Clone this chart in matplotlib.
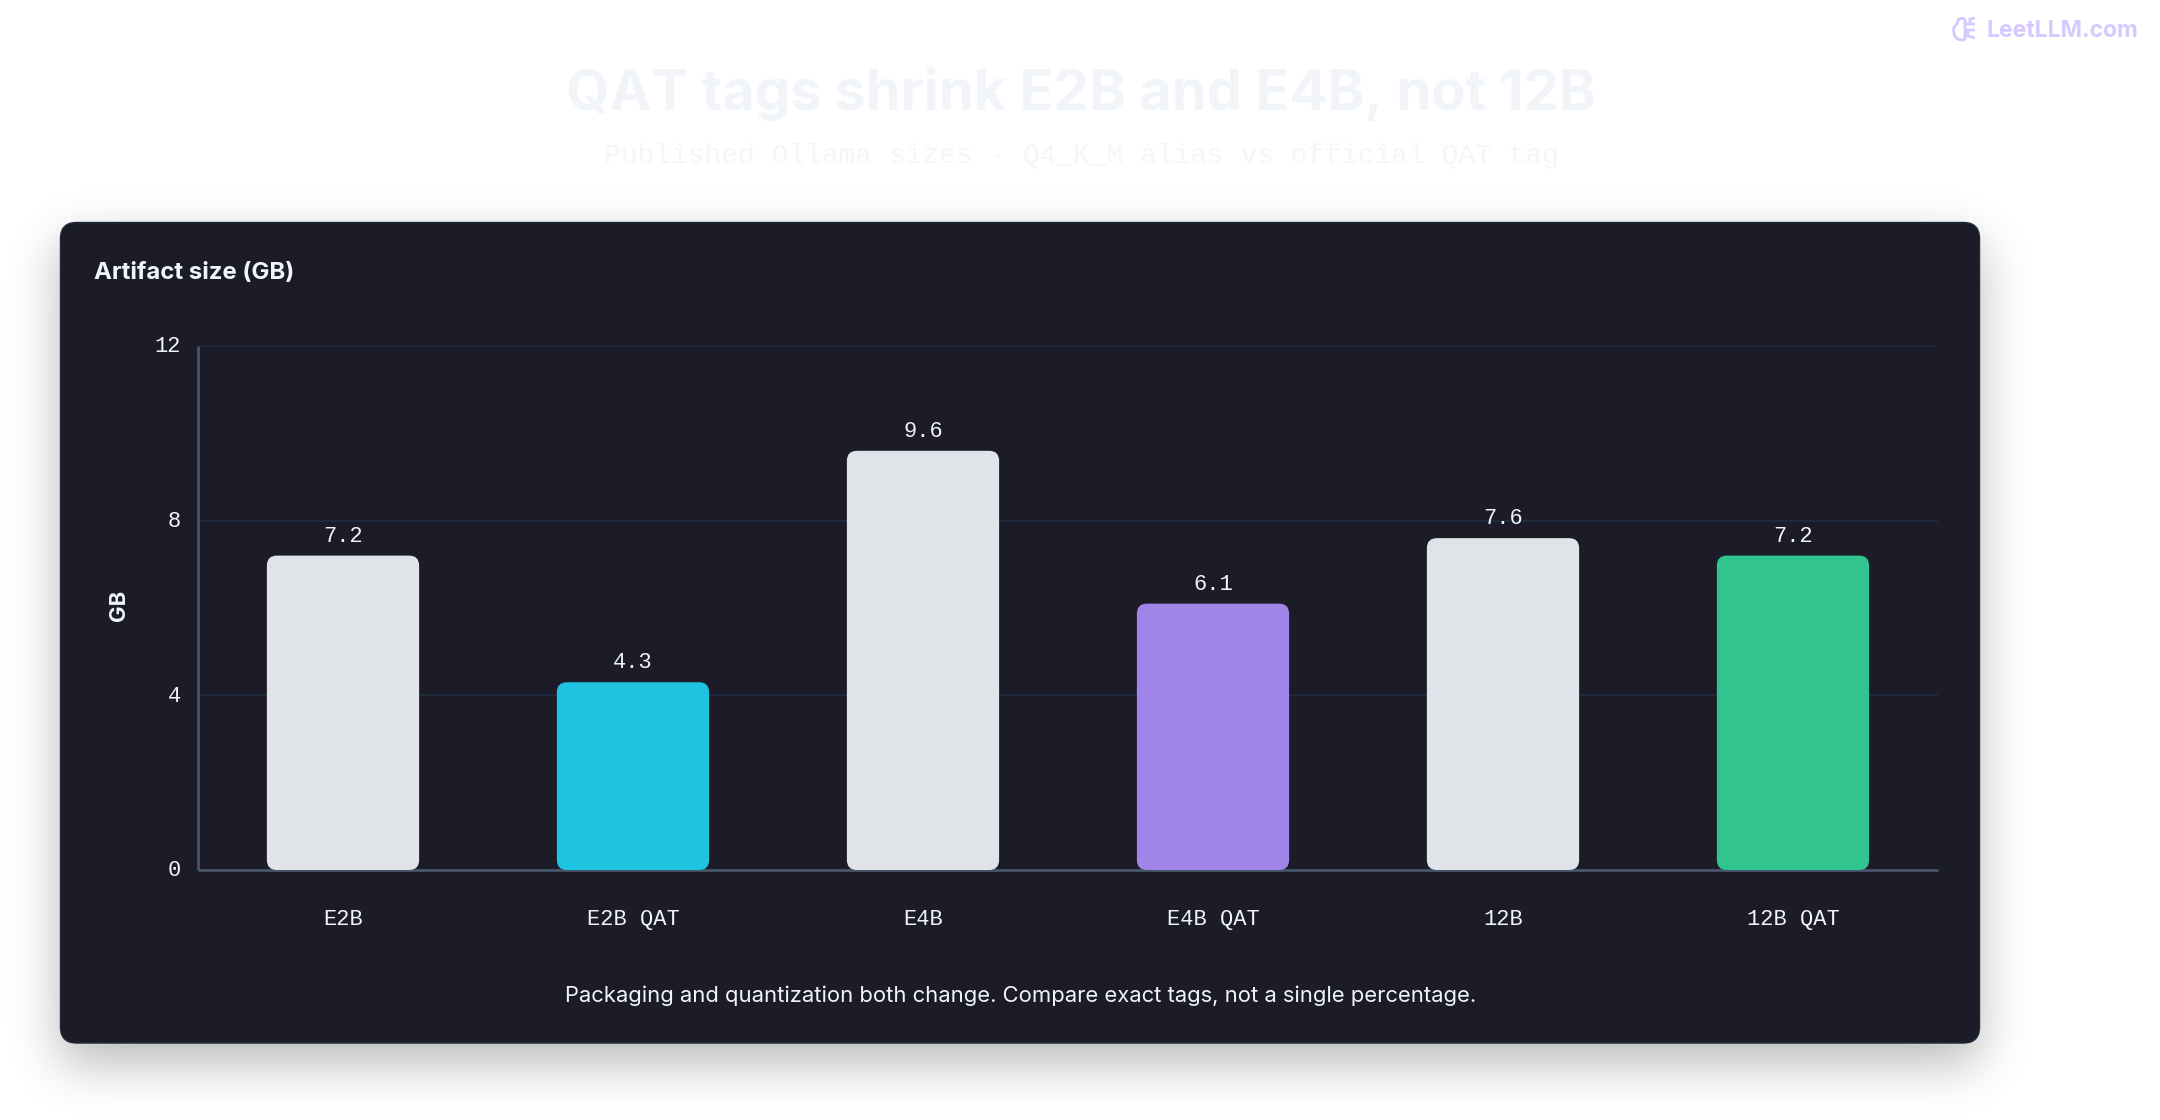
#!/usr/bin/env python3
"""Artifact size bars on a dark card, QAT tags vs Q4_K_M alias"""

import numpy as np
import matplotlib
matplotlib.use('Agg')
import matplotlib.pyplot as plt
from matplotlib.patches import FancyBboxPatch, PathPatch
from matplotlib.path import Path
from matplotlib.transforms import ScaledTranslation

# Chart data
categories = ['E2B', 'E2B QAT', 'E4B', 'E4B QAT', '12B', '12B QAT']
sizes_gb = [7.2, 4.3, 9.6, 6.1, 7.6, 7.2]
bar_colors = ['#e0e3e8', '#20c4e0', '#e0e3e8', '#a084e8', '#e0e3e8', '#32c48f']
y_ticks = [0, 4, 8, 12]

W, H = 2160, 1120
CARD = (60.5, 222.5, 1979.5, 1043)  # left, top, right, bottom in px
MONO = 'Liberation Mono'
SANS = 'Inter'
TEXT = '#f1f5f9'
MARK = '#d5c9ff'


def px(size):
    """Font size from pixels to points at dpi 100"""
    return size * 0.72


def card_shadow():
    """Soft drop shadow under the card, as an RGBA image"""
    mask = np.zeros((H + 200, W + 200))
    l, t, r, b = [int(v) + 100 for v in CARD]
    mask[t + 20:b + 20, l:r] = 1.0
    sigma = 25
    xs = np.arange(-3 * sigma, 3 * sigma + 1)
    kernel = np.exp(-xs**2 / (2 * sigma**2))
    kernel /= kernel.sum()
    for axis in (0, 1):
        mask = np.apply_along_axis(np.convolve, axis, mask, kernel, mode='same')
    rgba = np.zeros((H, W, 4))
    rgba[..., 3] = mask[100:-100, 100:-100] * 0.28
    return rgba


fig = plt.figure(figsize=(W / 100, H / 100), dpi=100, facecolor='white')

# Full-figure layer in pixel coordinates for card and texts
bg = fig.add_axes([0, 0, 1, 1], zorder=0)
bg.axis('off')
bg.imshow(card_shadow(), extent=(0, W, H, 0), aspect='auto', zorder=1)
bg.set_xlim(0, W)
bg.set_ylim(H, 0)

l, t, r, b = CARD
bg.add_patch(FancyBboxPatch((l, t), r - l, b - t,
                            boxstyle='round,pad=0,rounding_size=16',
                            facecolor='#1b1c28', edgecolor='#1e293b',
                            linewidth=1.0, zorder=2))

bg.text(1081.5, 94, 'QAT tags shrink E2B and E4B, not 12B', ha='center', va='center',
        fontsize=px(56), fontweight='bold', family=SANS, color='#f1f5f9', zorder=3)
bg.text(1081, 156, 'Published Ollama sizes · Q4_K_M alias vs official QAT tag', ha='center',
        va='center', fontsize=px(28), family=MONO, color='#f4f6fa', zorder=3)
bg.text(94, 273, 'Artifact size (GB)', ha='left', va='center', fontsize=px(24),
        fontweight='bold', family=SANS, color=TEXT, zorder=3)
bg.text(119, 605, 'GB', ha='center', va='center', rotation=90, fontsize=px(22),
        fontweight='bold', family=SANS, color=TEXT, zorder=3)
bg.text(1021, 996, 'Packaging and quantization both change. Compare exact tags, not a single percentage.',
        ha='center', va='center', fontsize=px(22), family=SANS, color=TEXT, zorder=3)

# Watermark
bg.text(1987, 31, 'LeetLLM.com', ha='left', va='center', fontsize=px(22.9),
        fontweight='bold', family=SANS, color=MARK, zorder=3)
brain = Path([(1965, 19), (1958, 16), (1957, 24), (1952, 28), (1954, 33), (1955, 41), (1965, 40),
              (1965, 19), (1965, 40),
              (1965, 24), (1975, 24),
              (1970, 24), (1970, 19), (1975, 18),
              (1965, 30), (1975, 30),
              (1968, 30), (1968, 36), (1975, 38)],
             [Path.MOVETO, Path.CURVE3, Path.CURVE3, Path.CURVE3, Path.CURVE3, Path.CURVE3, Path.CURVE3,
              Path.MOVETO, Path.LINETO,
              Path.MOVETO, Path.LINETO,
              Path.MOVETO, Path.LINETO, Path.LINETO,
              Path.MOVETO, Path.LINETO,
              Path.MOVETO, Path.LINETO, Path.LINETO])
bg.add_patch(PathPatch(brain, facecolor='none', edgecolor=MARK, linewidth=2.0, zorder=3))

# Chart axes
ax = fig.add_axes([198 / W, 1 - 870 / H, (1938 - 198) / W, (870 - 346) / H], zorder=1)
ax.patch.set_alpha(0)
ax.set_xlim(-0.5, len(categories) - 0.5)
ax.set_ylim(0, 12)
bar_w = 0.525
x_pos = np.arange(len(categories))

# Round the corners by 10 px in both directions
r_x = 10 / (1740 / 6)
r_y = 10 / (524 / 12)
for x, v, c in zip(x_pos, sizes_gb, bar_colors):
    ax.add_patch(FancyBboxPatch((x - bar_w / 2, 0), bar_w, v,
                                boxstyle=f'round,pad=0,rounding_size={r_x}',
                                mutation_aspect=r_y / r_x,
                                facecolor=c, edgecolor='none', zorder=3))
    ax.annotate(f'{v:.1f}', (x, v), xytext=(0, 9), textcoords='offset pixels',
                ha='center', va='bottom', fontsize=px(22), family=MONO, color=TEXT)

ax.set_yticks(y_ticks)
ax.set_xticks(x_pos, categories)
ax.tick_params(axis='both', length=0, labelcolor=TEXT, labelsize=px(22))
ax.tick_params(axis='x', pad=px(39))
ax.tick_params(axis='y', pad=px(17))
for label in ax.get_xticklabels():
    label.set_family(MONO)
for label in ax.get_yticklabels():
    label.set_family(MONO)
    label.set_transform(label.get_transform() + ScaledTranslation(0, 1.5 / 100, fig.dpi_scale_trans))
ax.grid(axis='y', color='#1e293b', linewidth=1.5, zorder=1)
ax.set_axisbelow(True)
for side in ('top', 'right'):
    ax.spines[side].set_visible(False)
for side in ('left', 'bottom'):
    ax.spines[side].set_color('#475569')
    ax.spines[side].set_linewidth(2)
    ax.spines[side].set_capstyle('butt')

fig.savefig('out.png', dpi=100, facecolor='white')
